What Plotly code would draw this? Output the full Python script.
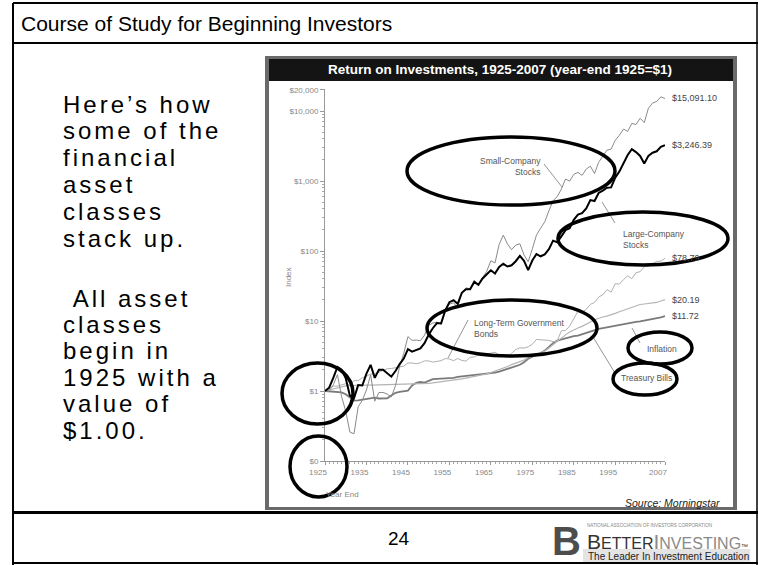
import numpy as np
import plotly.graph_objects as go

W, H = 758, 565

# ---------------- data (year-end values, 1925 = $1) ----------------
years = list(range(1925, 2008))

small_stocks = [
    1.000, 1.003, 1.225, 1.711, 0.832, 0.515, 0.259, 0.245, 0.594, 0.738,
    1.035, 1.706, 0.716, 0.951, 0.954, 0.905, 0.824, 1.190, 2.242, 3.447,
    5.984, 5.288, 5.337, 5.224, 6.256, 8.680, 9.357, 9.641, 9.015, 14.48,
    17.44, 18.18, 15.53, 25.61, 29.81, 28.83, 38.08, 33.55, 41.46, 51.21,
    72.59, 67.50, 123.9, 168.5, 126.3, 104.3, 121.5, 126.9, 87.66, 70.17,
    107.2, 168.8, 211.6, 261.2, 374.8, 524.2, 597.0, 764.2, 1067.4, 996.2,
    1241.9, 1326.9, 1203.5, 1478.8, 1629.3, 1278.0, 1848.4, 2280.0, 2758.4, 2844.2,
    3824.3, 4498.1, 5522.8, 5119.1, 6644.1, 6405.5, 7864.1, 6819.7, 10959.3, 12974.7,
    13713.0, 15930.4, 15091.1,
]

large_stocks = [
    1.000, 1.116, 1.535, 2.204, 2.018, 1.516, 0.859, 0.789, 1.214, 1.197,
    1.767, 2.367, 1.538, 2.016, 2.008, 1.812, 1.602, 1.927, 2.427, 2.906,
    3.965, 3.645, 3.853, 4.065, 4.829, 6.360, 7.888, 9.336, 9.244, 14.11,
    18.56, 19.78, 17.65, 25.30, 28.32, 28.46, 36.11, 32.95, 40.47, 47.14,
    53.01, 47.67, 59.10, 65.64, 60.06, 62.47, 71.41, 84.96, 72.50, 53.31,
    73.14, 90.58, 84.08, 89.59, 106.1, 140.5, 133.6, 162.2, 198.7, 211.2,
    279.1, 330.7, 348.0, 406.5, 534.5, 517.5, 675.6, 727.4, 800.1, 810.5,
    1113.9, 1370.9, 1828.3, 2350.9, 2845.6, 2586.5, 2279.1, 1775.3, 2284.8, 2533.4,
    2657.8, 3077.6, 3246.4,
]

lt_gov_bonds = [
    1.000, 1.078, 1.174, 1.175, 1.215, 1.272, 1.204, 1.407, 1.406, 1.547,
    1.624, 1.747, 1.751, 1.847, 1.957, 2.076, 2.096, 2.163, 2.208, 2.270,
    2.514, 2.511, 2.445, 2.529, 2.692, 2.693, 2.587, 2.617, 2.713, 2.908,
    2.870, 2.710, 2.912, 2.735, 2.673, 3.041, 3.071, 3.282, 3.322, 3.438,
    3.463, 3.589, 3.260, 3.251, 3.086, 3.460, 3.918, 4.141, 4.095, 4.273,
    4.666, 5.448, 5.410, 5.346, 5.281, 5.072, 5.166, 7.252, 7.299, 8.428,
    11.04, 13.75, 13.37, 14.67, 17.32, 18.39, 21.94, 23.71, 28.04, 25.86,
    34.05, 33.73, 39.08, 44.18, 40.22, 48.86, 50.67, 59.71, 60.57, 65.73,
    70.86, 71.70, 78.79,
]

treasury_bills = [
    1.000, 1.033, 1.065, 1.103, 1.155, 1.183, 1.196, 1.207, 1.211, 1.213,
    1.215, 1.217, 1.221, 1.221, 1.221, 1.221, 1.222, 1.225, 1.229, 1.233,
    1.237, 1.242, 1.248, 1.258, 1.272, 1.287, 1.306, 1.328, 1.352, 1.364,
    1.385, 1.419, 1.464, 1.486, 1.530, 1.571, 1.604, 1.648, 1.699, 1.760,
    1.829, 1.916, 1.996, 2.100, 2.239, 2.385, 2.489, 2.585, 2.764, 2.985,
    3.158, 3.319, 3.489, 3.739, 4.127, 4.591, 5.267, 5.822, 6.334, 6.958,
    7.495, 7.957, 8.392, 8.925, 9.672, 10.43, 11.01, 11.40, 11.73, 12.19,
    12.87, 13.54, 14.25, 14.94, 15.64, 16.56, 17.20, 17.48, 17.66, 17.87,
    18.40, 19.29, 20.19,
]

inflation = [
    1.000, 0.985, 0.965, 0.955, 0.957, 0.899, 0.814, 0.730, 0.734, 0.749,
    0.771, 0.780, 0.805, 0.782, 0.778, 0.786, 0.862, 0.942, 0.972, 0.993,
    1.015, 1.199, 1.308, 1.343, 1.319, 1.395, 1.477, 1.490, 1.499, 1.492,
    1.497, 1.540, 1.587, 1.614, 1.639, 1.663, 1.674, 1.694, 1.722, 1.743,
    1.776, 1.836, 1.892, 1.981, 2.102, 2.217, 2.292, 2.370, 2.579, 2.893,
    3.096, 3.245, 3.465, 3.777, 4.280, 4.811, 5.241, 5.444, 5.651, 5.874,
    6.095, 6.164, 6.436, 6.721, 7.033, 7.463, 7.691, 7.914, 8.132, 8.349,
    8.561, 8.845, 8.996, 9.140, 9.385, 9.704, 9.854, 10.09, 10.28, 10.61,
    10.98, 11.25, 11.72,
]

end_labels = ["$15,091.10", "$3,246.39", "$78.79", "$20.19", "$11.72"]

y_tick_vals = [0.1, 1, 10, 100, 1000, 10000, 20000]
y_tick_text = ["$0", "$1", "$10", "$100", "$1,000", "$10,000", "$20,000"]
x_tick_vals = [1925, 1935, 1945, 1955, 1965, 1975, 1985, 1995, 2007]

# ---------------- helpers ----------------
def px(x):
    return x / W

def py(y):
    return 1 - y / H

NARROW = "Liberation Sans Narrow, Arial Narrow, Liberation Sans, Arial, sans-serif"
SANS = "Liberation Sans, Arial, sans-serif"

fig = go.Figure()

series = [
    (inflation, "#7a7a7a", 1.8),
    (treasury_bills, "#b4b4b4", 1.2),
    (lt_gov_bonds, "#b0b0b0", 1.0),
    (small_stocks, "#8a8a8a", 1.0),
    (large_stocks, "#000000", 2.0),
]
for vals, col, w in series:
    fig.add_trace(go.Scatter(x=years, y=vals, mode="lines",
                             line=dict(color=col, width=w), hoverinfo="skip",
                             showlegend=False))

# end-value labels anchored to the data
end_vals = [small_stocks[-1], large_stocks[-1], lt_gov_bonds[-1],
            treasury_bills[-1], inflation[-1]]
for v, lab in zip(end_vals, end_labels):
    fig.add_annotation(x=years[-1], y=np.log10(v), xref="x", yref="y",
                       text=lab, showarrow=False, xanchor="left", yanchor="middle",
                       xshift=5, font=dict(family=NARROW, size=9, color="#444"))

minor_y = []
for d in [0.1, 1, 10, 100, 1000]:
    minor_y += [d * k for k in range(2, 10)]

fig.update_layout(
    template="none",
    width=W, height=H, autosize=False,
    margin=dict(l=0, r=0, t=0, b=0, pad=0, autoexpand=False),
    paper_bgcolor="white", plot_bgcolor="rgba(0,0,0,0)",
    showlegend=False,
    xaxis=dict(domain=[px(325), px(665)], range=[1925, 2007], automargin=False,
               tickvals=x_tick_vals, ticktext=[str(v) for v in x_tick_vals],
               ticks="outside", ticklen=3, tickcolor="#999", tickwidth=1,
               showline=True, linecolor="#999", linewidth=1,
               showgrid=False, zeroline=False, ticklabelshift=-7,
               tickfont=dict(family=NARROW, size=8, color="#888"),
               minor=dict(dtick=1, ticks="outside", ticklen=2, tickcolor="#aaa",
                          showgrid=False)),
    yaxis=dict(domain=[py(461), py(88.6)], type="log", range=[-1, 4.32],
               automargin=False,
               tickvals=y_tick_vals, ticktext=y_tick_text,
               ticks="outside", ticklen=4, tickcolor="#999", tickwidth=1,
               showline=True, linecolor="#999", linewidth=1,
               showgrid=False, zeroline=False,
               tickfont=dict(family=NARROW, size=8, color="#888"),
               minor=dict(tickvals=minor_y, ticks="outside", ticklen=2,
                          tickcolor="#aaa", showgrid=False)),
)

shapes = []

def rect(x0, y0, x1, y1, fill, layer="below", line_w=0, line_c=None):
    shapes.append(dict(type="rect", xref="paper", yref="paper",
                       x0=px(x0), x1=px(x1), y0=py(y1), y1=py(y0),
                       fillcolor=fill, layer=layer,
                       line=dict(width=line_w, color=line_c or fill)))

def line(x0, y0, x1, y1, color="black", width=2, layer="above"):
    shapes.append(dict(type="line", xref="paper", yref="paper",
                       x0=px(x0), x1=px(x1), y0=py(y0), y1=py(y1),
                       line=dict(color=color, width=width), layer=layer))

def ellipse(x0, y0, x1, y1):
    shapes.append(dict(type="circle", xref="paper", yref="paper",
                       x0=px(x0), x1=px(x1), y0=py(y1), y1=py(y0),
                       line=dict(color="black", width=3.5), layer="above"))

# chart picture frame
rect(265, 56, 737, 510, "#6a6a6a")
rect(269, 59, 733, 507, "#ffffff")
rect(269, 59, 733, 81, "#141414")
# logo band
rect(583, 549, 750, 562, "#e4e4e4")

# slide borders
line(13, 3, 758, 3, width=2)
line(13, 3, 13, 565, width=2)
line(757, 3, 757, 565, width=1.5)
line(13, 43, 758, 43, width=2)
line(13, 512.5, 758, 512.5, width=3)
line(13, 563, 758, 563, width=2)

# leader lines
lead = "#7a7a7a"
line(544, 164, 562, 187, color=lead, width=0.8)
line(615, 223, 602, 202, color=lead, width=0.8)
line(468, 320, 448, 358, color=lead, width=0.8)
line(640, 343, 632, 328, color=lead, width=0.8)
line(615, 373, 593, 337, color=lead, width=0.8)

# hand-drawn emphasis ellipses
ellipse(407, 137, 615, 205)
ellipse(558, 212, 728, 265)
ellipse(427, 300, 597, 356)
ellipse(628, 332, 692, 364)
ellipse(613, 363, 677, 395)
ellipse(282, 363, 353, 424)
ellipse(290, 436, 347, 497)

fig.update_layout(shapes=shapes)

def txt(x, y, s, size, color="#000", family=SANS, xanchor="left",
        yanchor="middle", align="left", angle=0):
    fig.add_annotation(x=px(x), y=py(y), xref="paper", yref="paper", text=s,
                       showarrow=False, xanchor=xanchor, yanchor=yanchor,
                       align=align, textangle=angle,
                       font=dict(family=family, size=size, color=color))

# slide title
txt(19, 23, "Course of Study for Beginning Investors", 21)

# left body text
body1 = ["Here’s how", "some of the", "financial", "asset", "classes", "stack up."]
body2 = ["\u00a0All asset", "classes", "begin in", "1925 with a", "value of", "$1.00."]
for i, s in enumerate(body1):
    txt(61, 104 + i * 26.8, '<span style="letter-spacing:3px">' + s + "</span>", 24)
for i, s in enumerate(body2):
    txt(61, 298 + i * 26.4, '<span style="letter-spacing:3px">' + s + "</span>", 24)

# chart title
txt(500, 70, "<b>Return on Investments, 1925-2007 (year-end 1925=$1)</b>", 13.5,
    color="white", family=SANS, xanchor="center")

# axis titles & source
txt(288, 277, "Index", 8, color="#888", family=NARROW, xanchor="center", angle=-90)
txt(342, 494, "Year End", 8, color="#888", family=NARROW, xanchor="center")
txt(722, 503, "<i>Source: Morningstar</i>", 10.5, color="#222", family=NARROW,
    xanchor="right")

# series labels
lab_c = "#555"
txt(543, 167, "Small-Company<br>Stocks", 8.5, color=lab_c, family=NARROW,
    xanchor="right", align="right")
txt(621, 239, "Large-Company<br>Stocks", 8.5, color=lab_c, family=NARROW)
txt(472, 328, "Long-Term Government<br>Bonds", 8.5, color=lab_c, family=NARROW)
txt(645, 349, "Inflation", 8.5, color=lab_c, family=NARROW)
txt(619, 378, "Treasury Bills", 8.5, color=lab_c, family=NARROW)

# footer
txt(399, 538, "24", 19, xanchor="center")
txt(566, 541, "<b>B</b>", 40, color="#4d4d4d", xanchor="center")
txt(585, 525, "NATIONAL ASSOCIATION OF INVESTORS CORPORATION", 4.6, color="#888")
txt(585, 541,
    '<span style="font-size:21px">B</span>ETTER'
    '<span style="color:#8a8a8a"><span style="font-size:21px">I</span>NVESTING</span>'
    '<span style="font-size:7px">™</span>', 16, color="#333")
txt(586, 556, "The Leader In Investment Education", 10, color="#222")

fig.write_html("out.html", config={"displayModeBar": False},
               post_script="document.body.style.margin='0';document.body.style.overflow='hidden';")
